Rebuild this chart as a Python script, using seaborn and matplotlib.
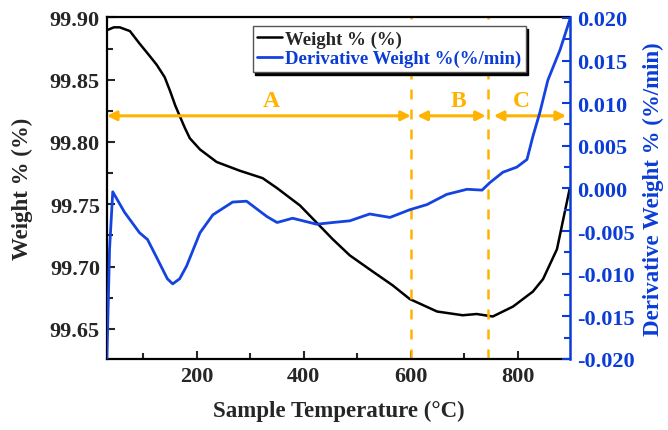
import numpy as np
import pandas as pd
import matplotlib
matplotlib.use("Agg")
import matplotlib.pyplot as plt
import seaborn as sns
from matplotlib.ticker import MultipleLocator, FormatStrFormatter

# data

temp_w = [34, 45, 56, 75, 93, 112, 125, 140, 150, 160, 168, 178, 187, 206, 237,
          280, 323, 350, 393, 454, 486, 529, 566, 598, 649, 697, 723, 753, 791,
          828, 847, 873, 897]
weight = [99.890, 99.892, 99.892, 99.889, 99.879, 99.869, 99.862, 99.852, 99.841,
          99.829, 99.821, 99.811, 99.803, 99.794, 99.784, 99.777, 99.771, 99.763,
          99.749, 99.722, 99.709, 99.696, 99.685, 99.674, 99.664, 99.661, 99.662,
          99.660, 99.668, 99.680, 99.690, 99.714, 99.763]

temp_d = [32, 37, 43, 65, 93, 108, 125, 145, 155, 168, 181, 206, 230, 267, 293,
          331, 350, 379, 424, 454, 486, 523, 561, 598, 630, 667, 705, 733, 748,
          772, 798, 817, 828, 841, 856, 879, 897]
deriv = [-0.0200, -0.0071, -0.0004, -0.0028, -0.0052, -0.0060, -0.0081, -0.0106,
         -0.0112, -0.0106, -0.0091, -0.0052, -0.0031, -0.0016, -0.0015, -0.0033,
         -0.0040, -0.0035, -0.0042, -0.0040, -0.0038, -0.0030, -0.0034, -0.0025,
         -0.0019, -0.0007, -0.0001, -0.0002, 0.0007, 0.0019, 0.0025, 0.0034,
         0.0061, 0.0089, 0.0127, 0.0163, 0.0198]

# regions A, B, C
region_names = ["A", "B", "C"]
region_start = [32, 612, 755]
region_end = [600, 740, 890]
region_label_x = [340, 688, 807]
boundaries = [600, 745]

df_w = pd.DataFrame({"T": temp_w, "W": weight})
df_d = pd.DataFrame({"T": temp_d, "D": deriv})

sns.set_style("ticks")
plt.rcParams["font.family"] = ["Liberation Serif", "DejaVu Serif"]
plt.rcParams["font.weight"] = "bold"
plt.rcParams["xtick.direction"] = "in"
plt.rcParams["ytick.direction"] = "in"

orange = "#FFB300"
blue = "#0B3CD6"
line_blue = "#1443E0"

fig, ax1 = plt.subplots(figsize=(6.68, 4.31), dpi=100)
fig.subplots_adjust(left=0.160, right=0.853, top=0.958, bottom=0.165)
ax2 = ax1.twinx()

sns.lineplot(data=df_w, x="T", y="W", ax=ax1, color="black", lw=1.8,
             label="Weight % (%)", legend=False)
sns.lineplot(data=df_d, x="T", y="D", ax=ax2, color=line_blue, lw=2.0,
             label="Derivative Weight %(%/min)", legend=False)

ax1.set_xlim(32, 897)
ax1.set_ylim(99.626, 99.9002)
ax2.set_ylim(-0.0200, 0.0201)

# boundaries and region arrows
for b in boundaries:
    ax1.axvline(b, color=orange, lw=1.8, dashes=(4, 4))
arrow_y = 99.821
for name, s, e, lx in zip(region_names, region_start, region_end, region_label_x):
    ax1.annotate("", xy=(s, arrow_y), xytext=(e, arrow_y),
                 arrowprops=dict(arrowstyle="<|-|>", color=orange, lw=2.2,
                                 mutation_scale=14, shrinkA=0, shrinkB=0))
    ax1.text(lx, arrow_y + 0.004, name, color=orange, fontsize=17,
             fontweight="bold", ha="center", va="bottom")

# ticks
ax1.xaxis.set_major_locator(MultipleLocator(200))
ax1.xaxis.set_minor_locator(MultipleLocator(100))
ax1.yaxis.set_major_locator(MultipleLocator(0.05))
ax1.yaxis.set_minor_locator(MultipleLocator(0.025))
ax1.yaxis.set_major_formatter(FormatStrFormatter("%.2f"))
ax2.yaxis.set_major_locator(MultipleLocator(0.005))
ax2.yaxis.set_minor_locator(MultipleLocator(0.0025))
ax2.yaxis.set_major_formatter(FormatStrFormatter("%.3f"))

ax1.tick_params(axis="both", which="major", length=6, width=1.5, labelsize=16, pad=5)
ax1.tick_params(axis="both", which="minor", length=4, width=1.5)
ax1.tick_params(axis="x", which="both", top=False)
ax2.tick_params(axis="y", which="major", length=6, width=1.5, labelsize=16,
                colors=blue, pad=5)
ax2.tick_params(axis="y", which="minor", length=4, width=1.5, colors=blue)
for lab in ax1.get_xticklabels() + ax1.get_yticklabels() + ax2.get_yticklabels():
    lab.set_fontweight("bold")

for sp in ["left", "bottom", "top"]:
    ax1.spines[sp].set_linewidth(1.6)
    ax1.spines[sp].set_color("black")
for sp in ["left", "bottom", "top"]:
    ax2.spines[sp].set_visible(False)
ax2.spines["right"].set_linewidth(1.8)
ax2.spines["right"].set_color(blue)
ax1.spines["right"].set_visible(False)

ax1.set_xlabel("Sample Temperature (\u00b0C)", fontsize=16.5, fontweight="bold", labelpad=10)
ax1.set_ylabel("Weight % (%)", fontsize=16.5, fontweight="bold", labelpad=12)
ax2.set_ylabel("Derivative Weight % (%/min)", fontsize=16.5, fontweight="bold",
               color=blue, labelpad=6)

h1, l1 = ax1.get_legend_handles_labels()
h2, l2 = ax2.get_legend_handles_labels()
leg = ax2.legend(h1 + h2, l1 + l2, loc="upper left", bbox_to_anchor=(0.315, 0.974),
                 borderaxespad=0, fontsize=13.5, handlelength=1.3, handletextpad=0.15,
                 borderpad=0.25, labelspacing=0.1, fancybox=False,
                 edgecolor="#555555", framealpha=1,
                 shadow={"color": "black", "alpha": 1})
leg.get_frame().set_linewidth(1.0)
for t in leg.get_texts():
    t.set_fontweight("bold")
leg.get_texts()[1].set_color(blue)

fig.savefig("out.png", dpi=100)
